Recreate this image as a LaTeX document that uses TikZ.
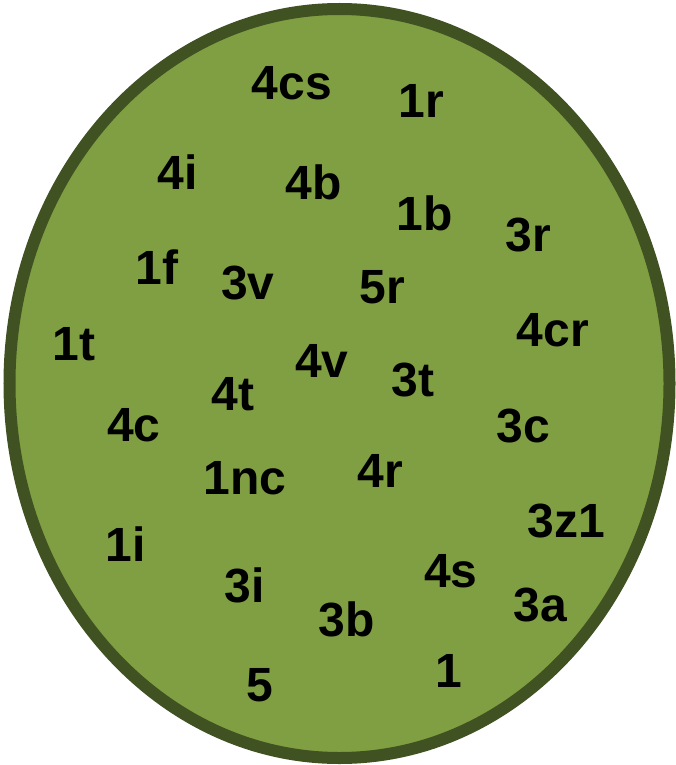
\documentclass[tikz,border=0pt]{standalone}
\usepackage{fontspec}
\setmainfont{Liberation Sans}
\definecolor{leaffill}{RGB}{128,159,66}
\definecolor{leafedge}{RGB}{64,81,34}
\begin{document}
\begin{tikzpicture}[x=1pt,y=-1pt,
  lbl/.style={inner sep=0pt,anchor=center,font=\bfseries\fontsize{48}{48}\selectfont,text=black}]
\useasboundingbox (0,0) rectangle (676,765);
\draw[fill=leaffill,draw=leafedge,line width=12pt] (339.5,383.5) ellipse [x radius=330pt, y radius=374.5pt];
\node[lbl] (n4cs) at (292,83) {4cs};
\node[lbl] (n1r) at (421,101) {1r};
\node[lbl] (n4i) at (178,172) {4i};
\node[lbl] (n4b) at (314,182) {4b};
\node[lbl] (n1b) at (425,213) {1b};
\node[lbl] (n3r) at (528,235) {3r};
\node[lbl] (n1f) at (157,267) {1f};
\node[lbl] (n3v) at (248,283) {3v};
\node[lbl] (n5r) at (382,287) {5r};
\node[lbl] (n4cr) at (553,330) {4cr};
\node[lbl] (n1t) at (74,344) {1t};
\node[lbl] (n4v) at (322,361) {4v};
\node[lbl] (n3t) at (413,380) {3t};
\node[lbl] (n4t) at (233,394) {4t};
\node[lbl] (n4c) at (134,425) {4c};
\node[lbl] (n3c) at (523,426) {3c};
\node[lbl] (n1nc) at (245,478) {1nc};
\node[lbl] (n4r) at (380,471) {4r};
\node[lbl] (n3z1) at (566,521) {3z1};
\node[lbl] (n1i) at (126,544) {1i};
\node[lbl] (n4s) at (451,571) {4s};
\node[lbl] (n3i) at (245,585) {3i};
\node[lbl] (n3a) at (540,605) {3a};
\node[lbl] (n3b) at (347,619) {3b};
\node[lbl] (n1) at (449,671) {1};
\node[lbl] (n5) at (260,685) {5};
\end{tikzpicture}
\end{document}
